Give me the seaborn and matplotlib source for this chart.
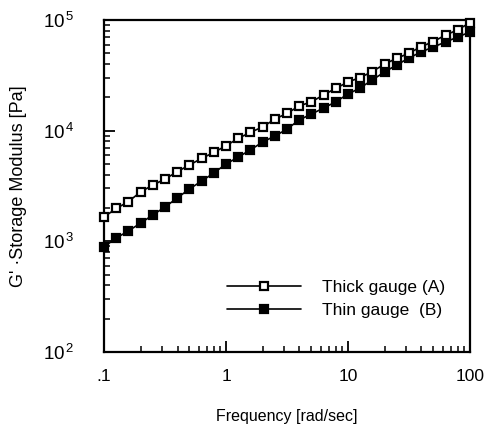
import numpy as np
import pandas as pd
import matplotlib
matplotlib.use("Agg")
import matplotlib.pyplot as plt
import matplotlib.ticker as mticker
import seaborn as sns

# ------------------------------------------------
# Data
# ------------------------------------------------
frequency = [0.1, 0.126, 0.158, 0.2, 0.251, 0.316, 0.398, 0.501, 0.631, 0.794,
             1.0, 1.26, 1.58, 2.0, 2.51, 3.16, 3.98, 5.01, 6.31, 7.94,
             10.0, 12.6, 15.8, 20.0, 25.1, 31.6, 39.8, 50.1, 63.1, 79.4, 100.0]

thick_gauge = [1660, 1980, 2280, 2800, 3220, 3650, 4250, 4890, 5610, 6350,
               7300, 8510, 9640, 10800, 12700, 14300, 16700, 18200, 21000, 24100,
               27500, 30200, 34100, 40000, 45000, 50000, 57400, 63700, 73100, 81300, 94600]

thin_gauge = [890, 1070, 1240, 1460, 1730, 2040, 2460, 2970, 3500, 4140,
              4990, 5770, 6680, 7890, 8930, 10300, 12500, 14100, 16000, 18200,
              21400, 24300, 28700, 33900, 39200, 45300, 51400, 57000, 63200, 70100, 77800]

series_labels = ["Thick gauge (A)", "Thin gauge  (B)"]
x_ticks = [0.1, 1, 10, 100]
x_ticklabels = [".1", "1", "10", "100"]
y_ticks = [1e2, 1e3, 1e4, 1e5]
y_ticklabels = ["10$^{\\,2}$", "10$^{\\,3}$", "10$^{\\,4}$", "10$^{\\,5}$"]

df = pd.DataFrame({
    "Frequency": frequency * 2,
    "Modulus": thick_gauge + thin_gauge,
    "Sample": [series_labels[0]] * len(frequency) + [series_labels[1]] * len(frequency),
})

# ------------------------------------------------
# Plot
# ------------------------------------------------
sns.set_style("white")
plt.rcParams["font.family"] = ["Liberation Sans", "DejaVu Sans"]
plt.rcParams["mathtext.fontset"] = "custom"
plt.rcParams["mathtext.rm"] = "Liberation Sans"
plt.rcParams["mathtext.it"] = "Liberation Sans"
plt.rcParams["mathtext.default"] = "regular"
plt.rcParams["text.color"] = "black"
plt.rcParams["axes.labelcolor"] = "black"
plt.rcParams["xtick.color"] = "black"
plt.rcParams["ytick.color"] = "black"

fig = plt.figure(figsize=(4.91, 4.25), dpi=100)
ax = fig.add_axes([0.212, 0.172, 0.745, 0.781])

face = {series_labels[0]: "white", series_labels[1]: "black"}
for name in series_labels:
    sub = df[df["Sample"] == name]
    sns.lineplot(data=sub, x="Frequency", y="Modulus", ax=ax, color="black",
                 linewidth=1.2, marker="s", markersize=5.6, markeredgewidth=1.6,
                 markerfacecolor=face[name], markeredgecolor="black", label=name,
                 clip_on=False,
                 zorder=3 if name == series_labels[0] else 2)

ax.set_xscale("log")
ax.set_yscale("log")
ax.set_xlim(0.1, 100)
ax.set_ylim(1e2, 1e5)

ax.set_xticks(x_ticks)
ax.set_xticklabels(x_ticklabels, fontsize=12.5)
ax.set_yticks(y_ticks)
ax.set_yticklabels(y_ticklabels, fontsize=13.5)
ax.xaxis.set_minor_locator(mticker.LogLocator(base=10, subs=np.arange(2, 10)))
ax.yaxis.set_minor_locator(mticker.LogLocator(base=10, subs=np.arange(2, 10)))
ax.xaxis.set_minor_formatter(mticker.NullFormatter())
ax.yaxis.set_minor_formatter(mticker.NullFormatter())
ax.tick_params(which="both", direction="in", bottom=True, left=True,
               top=False, right=False, color="black", labelcolor="black")
ax.tick_params(which="major", length=8, width=1.3)
ax.tick_params(axis="x", which="major", pad=12)
ax.tick_params(axis="y", which="major", pad=21)
ax.tick_params(which="minor", length=4.5, width=1.1)

for spine in ax.spines.values():
    spine.set_color("black")
    spine.set_linewidth(1.6)

ax.set_xlabel("Frequency [rad/sec]", fontsize=11.5, labelpad=18)
ax.set_ylabel("G' \u00b7Storage Modulus [Pa]", fontsize=13, labelpad=12)

leg = ax.legend(loc="lower right", bbox_to_anchor=(0.975, 0.055), frameon=False,
                fontsize=12.5, handlelength=4.3, handletextpad=1.2, labelspacing=0.45)
for txt in leg.get_texts():
    txt.set_color("black")

fig.savefig("out.png", dpi=100)
